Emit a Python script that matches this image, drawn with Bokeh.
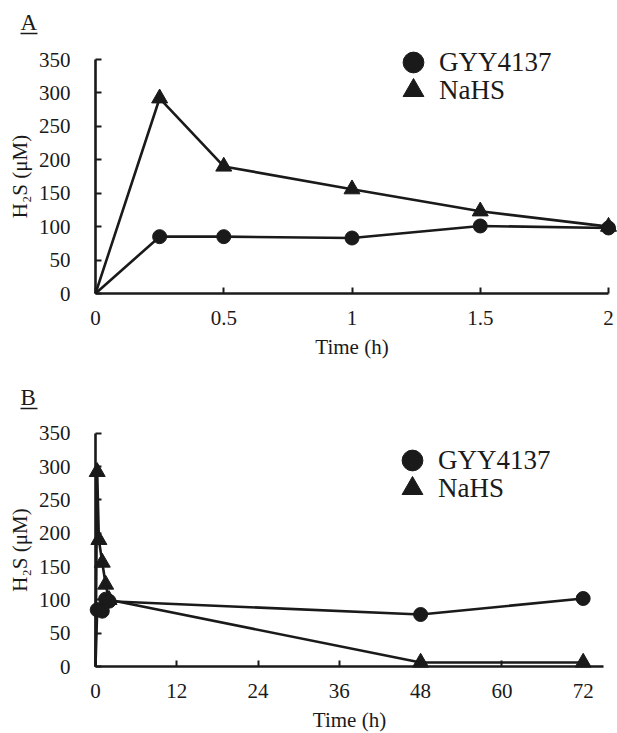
from bokeh.plotting import figure
from bokeh.layouts import column
from bokeh.models import (Legend, LegendItem, BoxAnnotation, Label,
                          FixedTicker, Range1d)
from bokeh.embed import file_html
from bokeh.resources import INLINE

# ---------------- data ----------------
time_a = [0, 0.25, 0.5, 1, 1.5, 2]
gyy_a = [0, 85, 85, 83, 101, 98]
nahs_a = [0, 292, 190, 156, 123, 100]

time_b = [0, 0.25, 0.5, 1, 1.5, 2, 48, 72]
gyy_b = [0, 85, 85, 83, 101, 98, 78, 102]
nahs_b = [0, 292, 190, 156, 123, 100, 6, 6]

y_ticks = [0, 50, 100, 150, 200, 250, 300, 350]
y_tick_labels = ["0", "50", "100", "150", "200", "250", "300", "350"]
x_ticks_a = [0, 0.5, 1, 1.5, 2]
x_tick_labels_a = ["0", "0.5", "1", "1.5", "2"]
x_ticks_b = [0, 12, 24, 36, 48, 60, 72]
x_tick_labels_b = ["0", "12", "24", "36", "48", "60", "72"]

series_names = ["GYY4137", "NaHS"]
panel_letters = ["A", "B"]
x_title = "Time (h)"
y_title = "H\u2082S (\u03bcM)"

INK = "#1a1a1a"
FONT = "'Liberation Serif', serif"
W = 617


def make_panel(letter, t, gyy, nahs, xticks, xlabels, axis_x_end, height,
               x0_px, xend_px, y0_px, ytop_px, legend_boxes):
    # pixel layout -> ranges (the frame covers the whole canvas;
    # the axes are pinned at data 0 with fixed_location)
    kx = (xend_px - x0_px) / axis_x_end
    ky = (y0_px - ytop_px) / 350
    x_range = Range1d(-x0_px / kx, (W - x0_px) / kx)
    y_range = Range1d(-(height - y0_px) / ky, y0_px / ky)
    p = figure(width=W, height=height, x_range=x_range, y_range=y_range,
               output_backend="svg", toolbar_location=None, min_border=0)
    p.outline_line_color = None
    p.grid.visible = False

    p.line(t, gyy, line_color=INK, line_width=2.6)
    p.line(t, nahs, line_color=INK, line_width=2.6)
    r_g = p.scatter(t[1:], gyy[1:], marker="circle", size=14,
                    fill_color=INK, line_color=INK)
    r_n = p.scatter(t[1:], nahs[1:], marker="triangle", size=16,
                    fill_color=INK, line_color=INK)

    p.xaxis.ticker = FixedTicker(ticks=xticks)
    p.xaxis.major_label_overrides = {k: v for k, v in zip(xticks, xlabels)}
    p.yaxis.ticker = FixedTicker(ticks=y_ticks)
    p.yaxis.major_label_overrides = {k: v for k, v in zip(y_ticks, y_tick_labels)}
    p.xaxis.bounds = (0, axis_x_end)
    p.yaxis.bounds = (0, 350)
    p.xaxis.fixed_location = 0
    p.yaxis.fixed_location = 0

    for ax in (p.xaxis, p.yaxis):
        ax.axis_line_color = INK
        ax.axis_line_width = 2.6
        ax.major_tick_in = 6
        ax.major_tick_out = 0
        ax.major_tick_line_color = INK
        ax.major_tick_line_width = 2
        ax.minor_tick_line_color = None
        ax.major_label_text_font = FONT
        ax.major_label_text_font_size = "21px"
        ax.major_label_text_font_style = "normal"
        ax.major_label_text_color = INK
        ax.axis_label_text_font = FONT
        ax.axis_label_text_font_size = "21px"
        ax.axis_label_text_font_style = "normal"
        ax.axis_label_text_color = INK
    p.xaxis.major_label_standoff = 17
    p.yaxis.major_label_standoff = 25
    p.xaxis.axis_label = x_title
    p.yaxis.axis_label = y_title
    p.xaxis.axis_label_standoff = 7
    p.yaxis.axis_label_standoff = 4

    # legends: one per series, glyph box 52 px (marker = 0.4 * box)
    for name, rend, (bx, by) in zip(series_names, [r_g, r_n], legend_boxes):
        lg = Legend(items=[LegendItem(label=name, renderers=[rend])],
                    location=(bx, height - by - 52),
                    glyph_width=52, glyph_height=52,
                    label_standoff=0, padding=0, margin=0, spacing=0,
                    border_line_alpha=0, background_fill_alpha=0,
                    label_text_font=FONT, label_text_font_size="27px",
                    label_text_font_style="normal",
                    label_text_color=INK)
        p.add_layout(lg)

    # panel letter, underlined
    p.add_layout(Label(x=20, y=height - 22, x_units="screen", y_units="screen",
                       text=letter, text_font=FONT, text_font_size="23px",
                       text_font_style="normal",
                       text_baseline="alphabetic", text_align="left",
                       text_color=INK))
    p.add_layout(BoxAnnotation(left=20, right=37,
                               bottom=height - 33.8, top=height - 32.2,
                               left_units="screen", right_units="screen",
                               top_units="screen", bottom_units="screen",
                               fill_color=INK, fill_alpha=1, line_alpha=0))
    return p


# panel A (page y 0-375): x 0 -> 95 px, 2 -> 608 px; y 0 -> 293 px, 350 -> 59 px
pa = make_panel(panel_letters[0], time_a, gyy_a, nahs_a, x_ticks_a,
                x_tick_labels_a, 2, 375, 95, 608, 293, 59,
                [(387, 36), (387, 64)])
# panel B (page y 375-733): x 0 -> 95 px, 75 -> 603 px; y 0 -> 291 px, 350 -> 57.7 px
pb = make_panel(panel_letters[1], time_b, gyy_b, nahs_b, x_ticks_b,
                x_tick_labels_b, 75, 358, 95, 603, 291, 57.7,
                [(386, 59), (386, 87)])

layout = column(pa, pb, spacing=0)
open("out.html", "w").write(file_html(layout, INLINE))
